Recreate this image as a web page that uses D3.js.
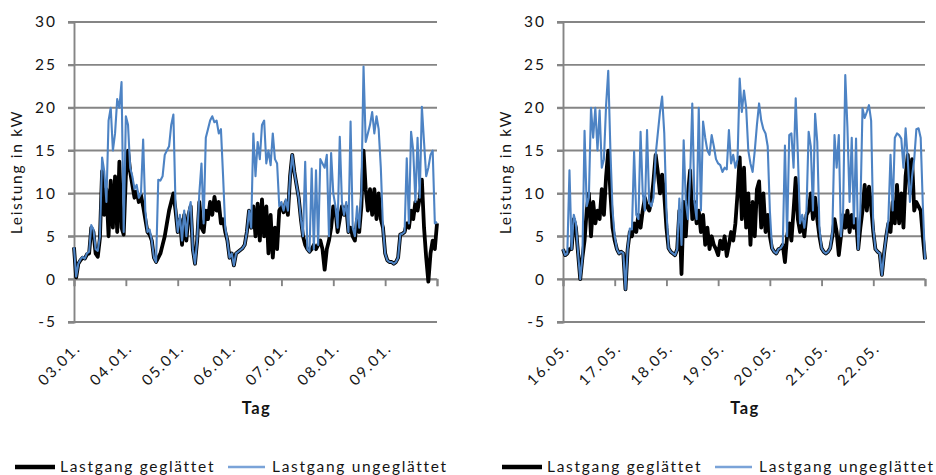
<!DOCTYPE html>
<html><head><meta charset="utf-8">
<script src="https://cdn.jsdelivr.net/npm/d3@7/dist/d3.min.js"></script>
<style>
html,body{margin:0;padding:0;background:#fff;}
svg{display:block;}
text{font-family:Lato,"Open Sans",sans-serif;fill:#141414;}
</style></head>
<body>
<svg id="chart" width="936" height="475"></svg>
<script>
// ---------- data ----------
const hours = d3.range(169);            // hourly samples over 7 days
const dayTicks = [0,24,48,72,96,120,144,168];
const labelsLeft  = ["03.01.","04.01.","05.01.","06.01.","07.01.","08.01.","09.01."];
const labelsRight = ["16.05.","17.05.","18.05.","19.05.","20.05.","21.05.","22.05."];
const yTicks = [-5,0,5,10,15,20,25,30];
const yTitle = "Leistung in kW";
const xTitle = "Tag";
const seriesNames = ["Lastgang geglättet","Lastgang ungeglättet"];

const leftRaw = [
 3.7,0.3,1.8,2.3,2.6,2.4,3.0,3.2,6.3,5.8,3.5,3.3,
 5.0,14.2,12.6,9.0,18.5,20,15,17,21,20,23,5.5,
 19,18,13,12,10.5,11,9.5,10,16.3,8,5.5,5.8,
 4.5,2.5,2.0,11.6,11.5,12,14.5,15,15.5,18,19.2,8.5,
 5.5,7.5,4.5,8.0,5.0,7.8,9.0,3.5,1.8,4.5,10,13.5,
 6.5,16.5,17.5,18.5,19,18.3,18.5,17,17.5,12,6,4.5,
 2.5,3.0,1.6,3.0,3.2,3.4,3.6,4.0,5.5,8.0,6.0,17,
 12,16,14,18,18.5,13.5,15,13.3,17,14,13.5,8.5,
 9.0,8.0,9.3,8.0,12,14.5,12.5,11,9.5,7,5,13.7,
 3.5,3.2,12.9,3.5,12.7,4,14,13.5,13,14.5,5,14.7,
 10,8.5,6,16.6,9,7.5,9,5.5,18.4,6,5,8.5,
 6,10,24.8,16,17,18,19.5,17,19,17.5,13,6,
 3,2.2,2.0,2.0,1.8,2.0,2.5,5.2,5.3,5.5,14.1,6.5,
 17.2,15,9,16.5,9.5,20.1,16,12,13,14.5,15,6.5,6.7];
const leftSmooth = [
 3.7,0.2,1.8,2.2,2.5,2.4,2.9,3.0,6.0,5.5,3.0,2.6,
 4.8,12.6,7.5,10.5,5.0,11.5,6.0,12.0,5.5,13.7,6.0,5.2,
 12.0,15.0,12.5,11.0,9.5,10.2,9.0,9.8,8.5,7.0,5.5,5.2,
 4.5,2.5,2.0,2.5,3.0,4.0,5.0,6.5,8.0,9.0,10.0,8.0,
 5.5,7.0,4.0,7.5,4.5,7.5,8.5,3.5,1.8,4.5,9.0,6.0,
 5.5,8.0,7.0,9.0,7.5,9.6,8.0,9.0,6.5,7.0,5.5,4.5,
 2.5,3.0,1.6,3.0,3.2,3.4,3.6,4.0,5.5,8.0,6.0,8.5,
 5.0,8.8,4.5,9.3,5.0,8.5,3.0,7.5,2.5,6.0,3.5,8.0,
 8.5,7.8,9.0,7.5,12,14.5,12.5,11,9.5,7,5,4,
 3.5,3.2,3.5,4,3.5,4,4.5,3.5,1.1,3.5,4.5,6,
 8.5,8,5.5,7,8.5,7.5,8.5,5.5,6,5,4.5,7,
 5.5,8.5,15,10.5,8,10.5,7.5,10.5,7,10,7,6,
 3,2.2,2.0,2.0,1.8,2.0,2.5,5.2,5.3,5.5,6.5,6.0,
 8.0,7.0,9.0,8.0,9.5,11.6,6.0,2.5,-0.3,3.0,4.5,3.5,6.5];
const rightRaw = [
 3.5,2.8,3.0,12.7,3.5,7.5,6.5,3.0,0.0,2.5,17.3,8.5,
 9.5,20.0,16.5,20.0,15.0,19.7,13.0,14.0,20.3,24.3,15.0,8.0,
 5.0,3.5,3.0,3.2,3.0,-1.2,3.5,5.9,5.8,14.9,7.5,7.0,
 17.2,10.0,8.0,17.4,9.0,8.5,9.5,14.5,17.0,19.5,21.3,17.0,
 8.0,3.6,3.2,3.0,2.8,3.5,9.4,4.0,16.2,9.0,7.0,12.0,
 20.5,9.0,7.0,20.0,8.0,18.4,16.5,15.0,14.5,16.8,15.5,14.0,
 13.5,13.3,12.5,13.0,12.8,17.4,13.5,14.5,13.0,14.0,23.4,19.5,
 22.0,20.0,15.0,13.5,12.5,15.0,18.0,20.5,18.5,17.5,17.0,15.5,
 8.0,3.6,3.2,3.0,3.5,3.6,4.0,15.6,5.0,16.8,17.0,13.0,
 21.1,14.5,6.5,7.5,6.0,8.0,17.2,15.5,8.0,19.3,16.0,6.0,
 3.6,3.2,3.0,3.2,3.6,5.5,16.8,13.0,16.8,5.0,8.0,23.8,
 17.7,9.0,16.5,6.5,16.4,3.5,8.0,19.9,18.8,19.5,20.3,18.5,
 6.0,3.5,3.2,3.0,0.5,3.0,5.0,7.0,14.5,8.0,16.5,17.0,
 16.8,16.4,13.0,17.6,14.0,9.0,12.0,14.0,17.5,17.6,16.5,8.6,2.3];
const rightSmooth = [
 3.5,2.8,3.0,3.5,3.5,7.0,6.0,3.0,0.0,2.5,4.5,8.0,
 10.0,5.0,9.0,6.5,8.0,7.0,10.5,7.5,12.0,15.0,10.0,6.0,
 4.5,3.5,3.0,3.2,3.0,-1.2,3.5,5.5,5.0,6.5,5.5,7.5,
 6.0,8.0,9.5,8.5,8.0,9.0,11.5,14.5,12.5,10.0,12.2,9.8,
 6.0,3.6,3.2,3.0,2.8,3.5,8.0,0.6,9.0,5.0,10.0,12.7,
 7.0,9.0,6.5,8.0,5.5,7.5,4.0,6.0,3.5,5.0,4.0,3.5,
 2.8,4.5,3.5,5.0,2.7,4.0,5.5,4.5,6.5,10.0,14.2,7.0,
 13.0,6.0,10.0,4.0,9.0,5.0,10.5,11.4,6.0,10.0,5.5,7.5,
 5.0,3.6,3.2,3.0,3.5,3.6,4.0,2.0,5.0,6.5,4.5,8.0,
 11.8,7.0,5.5,7.0,5.0,7.5,8.0,10.0,7.0,9.5,7.0,5.0,
 3.6,3.2,3.0,3.2,3.6,5.0,7.0,5.5,2.8,5.0,7.5,6.0,
 8.0,5.5,7.5,6.0,7.0,3.5,6.0,8.0,11.0,8.0,10.8,8.5,
 5.5,3.5,3.2,3.0,0.5,3.0,5.0,6.5,5.5,9.0,6.5,11.0,
 6.5,10.0,6.0,12.0,14.5,10.0,14.0,8.0,9.0,8.5,8.0,5.0,2.3];

// ---------- drawing ----------
const svg = d3.select("#chart");
const COL_BLACK = "#000000", COL_BLUE = "#4d83c4", COL_GRID = "#858585";
const FS = 15.5, LS = 1.7;

function panel(x0, x1, yTitleX, dayLabels, smooth, raw, legendX) {
  const g = svg.append("g");
  const x = d3.scaleLinear().domain([0,168]).range([x0,x1]);
  const y = d3.scaleLinear().domain([-5,30]).range([322,22]);

  // gridlines (incl. small outer tick)
  g.append("g").selectAll("line").data(yTicks).join("line")
    .attr("x1", x0-6).attr("x2", x1)
    .attr("y1", d=>y(d)).attr("y2", d=>y(d))
    .attr("stroke", COL_GRID).attr("stroke-width", 1.9);

  // y axis
  const ya = g.append("g").attr("transform",`translate(${x0},0)`)
    .call(d3.axisLeft(y).tickValues(yTicks).tickSize(6).tickPadding(11).tickFormat(d=>d<0?"-"+Math.abs(d):d));
  ya.select(".domain").attr("stroke", COL_GRID).attr("stroke-width",1.9);
  ya.selectAll(".tick line").attr("stroke", COL_GRID).attr("stroke-width",1.9);
  ya.selectAll("text").attr("font-size",FS).attr("letter-spacing",2).attr("fill","#141414").style("font-family","Lato");

  // x axis at y=0
  const xa = g.append("g").attr("transform",`translate(0,${y(0)})`)
    .call(d3.axisBottom(x).tickValues(dayTicks).tickSize(7)
      .tickFormat((d,i)=> i<dayLabels.length ? dayLabels[i] : ""));
  xa.select(".domain").attr("stroke", COL_GRID).attr("stroke-width",1.9);
  xa.selectAll(".tick line").attr("stroke", COL_GRID).attr("stroke-width",1.9);
  xa.selectAll("text")
    .attr("x",0).attr("y",0).attr("dy",0)
    .attr("transform","translate(7,70) rotate(-45)")
    .attr("text-anchor","end").attr("font-size",15)
    .attr("letter-spacing","1.8").attr("fill","#141414").style("font-family","Lato");

  // lines
  const line = d3.line().x((d,i)=>x(hours[i])).y(d=>y(d));
  g.append("path").datum(smooth).attr("d",line).attr("fill","none")
    .attr("stroke",COL_BLACK).attr("stroke-width",3.8).attr("stroke-linejoin","round");
  g.append("path").datum(raw).attr("d",line).attr("fill","none")
    .attr("stroke",COL_BLUE).attr("stroke-width",2.1).attr("stroke-linejoin","round");

  // axis titles
  g.append("text").attr("transform",`translate(${yTitleX},172) rotate(-90)`)
    .attr("text-anchor","middle").attr("dominant-baseline","middle")
    .attr("font-size",FS).attr("letter-spacing",LS).text(yTitle);
  g.append("text").attr("x",(x0+x1)/2 + 1).attr("y",414)
    .attr("text-anchor","middle").attr("font-size",16.5).attr("letter-spacing",1.5)
    .attr("font-weight","bold").text(xTitle);

  // legend
  const lg = g.append("g").attr("transform",`translate(${legendX},0)`);
  lg.append("line").attr("x1",0).attr("x2",40).attr("y1",467).attr("y2",467)
    .attr("stroke",COL_BLACK).attr("stroke-width",4.5);
  lg.append("text").attr("x",45).attr("y",472).attr("font-size",FS).attr("letter-spacing",LS).text(seriesNames[0]);
  lg.append("line").attr("x1",213).attr("x2",250).attr("y1",467).attr("y2",467)
    .attr("stroke","#7aa3d8").attr("stroke-width",2.5);
  lg.append("text").attr("x",257).attr("y",472).attr("font-size",FS).attr("letter-spacing",LS).text(seriesNames[1]);
}

panel(74, 437, 18, labelsLeft, leftSmooth, leftRaw, 15);
panel(563, 925, 507, labelsRight, rightSmooth, rightRaw, 502);
</script>
</body></html>
